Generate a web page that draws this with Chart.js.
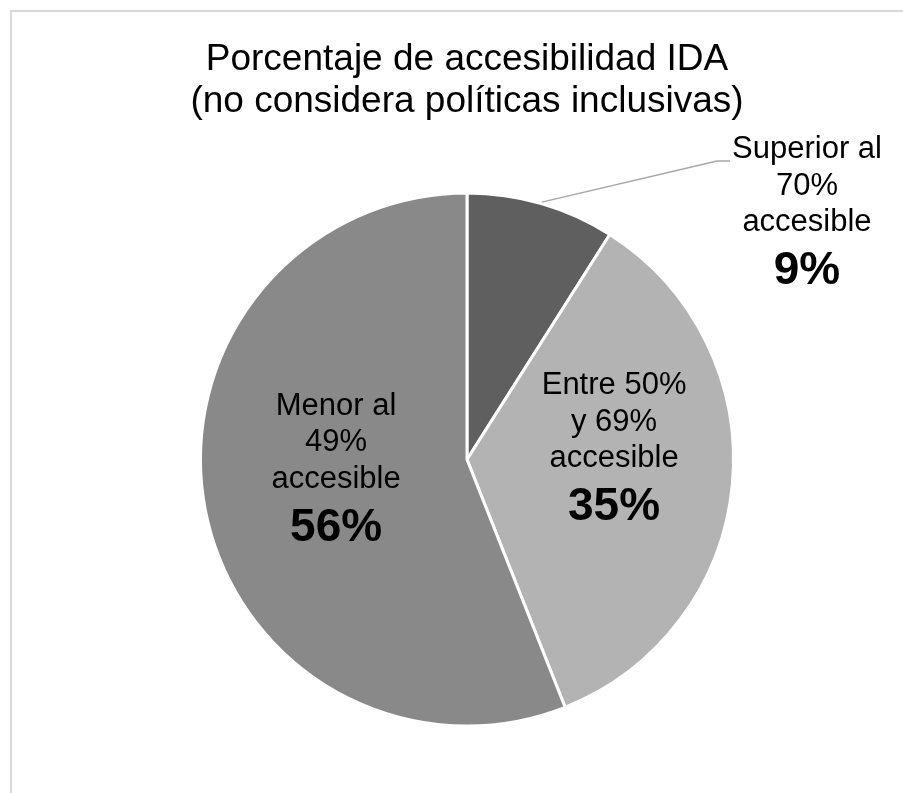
<!DOCTYPE html>
<html>
<head>
<meta charset="utf-8">
<script src="https://cdn.jsdelivr.net/npm/chart.js@4.4.1/dist/chart.umd.min.js"></script>
<style>
  html, body { margin: 0; padding: 0; background: #ffffff; }
  #wrap { width: 903px; height: 793px; position: relative; }
</style>
</head>
<body>
<div id="wrap"><canvas id="c" width="903" height="793"></canvas></div>
<script>
// ---- data ----
const categories = ['Superior al 70% accesible', 'Entre 50% y 69% accesible', 'Menor al 49% accesible'];
const values = [9, 35, 56];
const labelLines = [['Superior al', '70%', 'accesible'], ['Entre 50%', 'y 69%', 'accesible'], ['Menor al', '49%', 'accesible']];
const percentLabels = ['9%', '35%', '56%'];
const titleLines = ['Porcentaje de accesibilidad IDA', '(no considera políticas inclusivas)'];

// ---- style ----
const sliceColors = ['#5f5f5f', '#b3b3b3', '#898989'];
// label anchor (first-line baseline, centered) in units of radius from pie center
const labelPos = [[1.283, -1.136], [0.555, -0.246], [-0.494, -0.168]];
const FONT = '"Liberation Sans", Arial, sans-serif';

const framePlugin = {
  id: 'frame',
  beforeDraw(chart) {
    const ctx = chart.ctx;
    ctx.save();
    ctx.strokeStyle = '#d9d9d9';
    ctx.lineWidth = 2;
    ctx.strokeRect(11, 11, 1200, 1200);
    ctx.restore();
  }
};

const labelPlugin = {
  id: 'sliceLabels',
  afterDatasetsDraw(chart) {
    const ctx = chart.ctx;
    const arcs = chart.getDatasetMeta(0).data;
    ctx.save();
    ctx.fillStyle = '#000000';
    ctx.textAlign = 'center';
    ctx.textBaseline = 'alphabetic';
    arcs.forEach((arc, i) => {
      const p = arc.getProps(['x', 'y', 'outerRadius', 'startAngle', 'endAngle'], true);
      const r = p.outerRadius - 1.5;
      const ax = p.x + labelPos[i][0] * r;
      const ay = p.y + labelPos[i][1] * r;
      ctx.font = '31px ' + FONT;
      let y = ay;
      labelLines[i].forEach((ln, k) => {
        ctx.fillText(ln, ax, y);
        if (k < labelLines[i].length - 1) y += 36.5;
      });
      ctx.font = 'bold 46px ' + FONT;
      ctx.fillText(percentLabels[i], ax, y + 53);

      // leader line for outside label
      if (Math.abs(labelPos[i][0]) > 1 || Math.abs(labelPos[i][1]) > 1) {
        ctx.font = '31px ' + FONT;
        const w = ctx.measureText(labelLines[i][0]).width;
        const mid = (p.startAngle + p.endAngle) / 2;
        const sx = p.x + Math.cos(mid) * (p.outerRadius + 1.5);
        const sy = p.y + Math.sin(mid) * (p.outerRadius + 1.5);
        const ex = ax - w / 2 - 2;
        const ey = ay + 2.5;
        ctx.strokeStyle = '#a6a6a6';
        ctx.lineWidth = 1.5;
        ctx.beginPath();
        ctx.moveTo(sx, sy);
        ctx.lineTo(ex - 13, ey);
        ctx.lineTo(ex, ey);
        ctx.stroke();
      }
    });
    ctx.restore();
  }
};

new Chart(document.getElementById('c'), {
  type: 'pie',
  data: {
    labels: categories,
    datasets: [{
      data: values,
      backgroundColor: sliceColors,
      borderColor: '#ffffff',
      borderWidth: 3,
      hoverOffset: 0,
      offset: 0
    }]
  },
  options: {
    responsive: false,
    animation: false,
    radius: 266.5,
    layout: { padding: { left: 31, right: 0, top: 0, bottom: 68 } },
    plugins: {
      legend: { display: false },
      tooltip: { enabled: false },
      title: {
        display: true,
        text: titleLines,
        color: '#000000',
        font: { family: FONT, size: 37, weight: 'normal', lineHeight: 42 / 37 },
        padding: { top: 38.5, bottom: 71.5 }
      }
    },
    events: []
  },
  plugins: [framePlugin, labelPlugin]
});
</script>
</body>
</html>
